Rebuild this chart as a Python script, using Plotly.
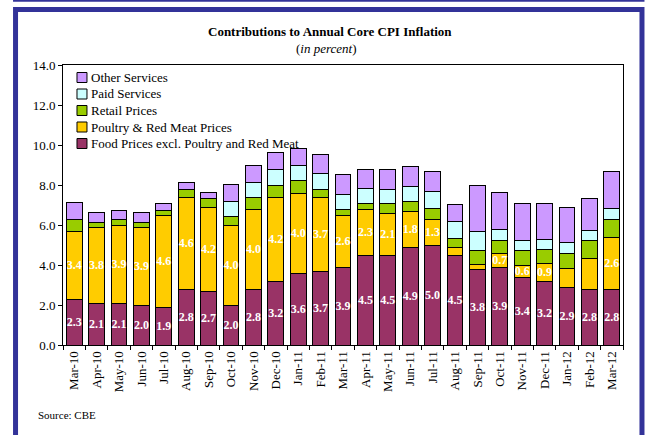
import plotly.graph_objects as go

months = ["Mar-10", "Apr-10", "May-10", "Jun-10", "Jul-10", "Aug-10", "Sep-10", "Oct-10",
          "Nov-10", "Dec-10", "Jan-11", "Feb-11", "Mar-11", "Apr-11", "May-11", "Jun-11",
          "Jul-11", "Aug-11", "Sep-11", "Oct-11", "Nov-11", "Dec-11", "Jan-12", "Feb-12", "Mar-12"]

food = [2.3, 2.1, 2.1, 2.0, 1.9, 2.8, 2.7, 2.0, 2.8, 3.2, 3.6, 3.7, 3.9, 4.5, 4.5, 4.9,
        5.0, 4.5, 3.8, 3.9, 3.4, 3.2, 2.9, 2.8, 2.8]
poultry = [3.4, 3.8, 3.9, 3.9, 4.6, 4.6, 4.2, 4.0, 4.0, 4.2, 4.0, 3.7, 2.6, 2.3, 2.1, 1.8,
           1.3, 0.4, 0.25, 0.7, 0.6, 0.9, 0.95, 1.55, 2.6]
retail = [0.6, 0.25, 0.3, 0.25, 0.25, 0.4, 0.45, 0.45, 0.6, 0.6, 0.65, 0.4, 0.3, 0.3, 0.5, 0.5,
          0.55, 0.45, 0.7, 0.65, 0.75, 0.7, 0.75, 0.9, 0.9]
paid = [0.0, 0.0, 0.0, 0.0, 0.0, 0.0, 0.0, 0.75, 0.75, 0.8, 0.75, 0.77, 0.75, 0.75, 0.7, 0.75,
        0.83, 0.83, 0.95, 0.52, 0.5, 0.5, 0.55, 0.5, 0.55]
other = [0.85, 0.5, 0.45, 0.5, 0.35, 0.35, 0.3, 0.85, 0.85, 0.83, 0.83, 0.98, 0.97, 0.95, 1.0, 0.97,
         0.98, 0.87, 2.3, 1.85, 1.82, 1.8, 1.73, 1.6, 1.85]

food_labels = ["2.3", "2.1", "2.1", "2.0", "1.9", "2.8", "2.7", "2.0", "2.8", "3.2", "3.6", "3.7",
               "3.9", "4.5", "4.5", "4.9", "5.0", "4.5", "3.8", "3.9", "3.4", "3.2", "2.9", "2.8", "2.8"]
poultry_labels = ["3.4", "3.8", "3.9", "3.9", "4.6", "4.6", "4.2", "4.0", "4.0", "4.2", "4.0", "3.7",
                  "2.6", "2.3", "2.1", "1.8", "1.3", "", "", "0.7", "0.6", "0.9", "", "", "2.6"]

series_names = ["Food Prices excl. Poultry and Red Meat", "Poultry & Red Meat Prices",
                "Retail Prices", "Paid Services", "Other Services"]
series_colors = ["#993366", "#FFCC00", "#99CC00", "#CCFFFF", "#CC99FF"]
series_values = [food, poultry, retail, paid, other]
series_text = [food_labels, poultry_labels, None, None, None]

SERIF = "Liberation Serif"

# plot area in pixels
W, H = 648, 435
PL, PR, PT, PB = 63, 623.5, 65, 345


def px(x):
    return (x - PL) / (PR - PL)


def py(y):
    return (PB - y) / (PB - PT)


fig = go.Figure()
for name, color, vals, txt in zip(series_names, series_colors, series_values, series_text):
    kw = {}
    if txt is not None:
        kw = dict(text=["<b>%s</b>" % t if t else "" for t in txt],
                  textposition="inside", insidetextanchor="middle", textangle=0,
                  constraintext="none",
                  textfont=dict(family=SERIF, size=12, color="white"))
    fig.add_trace(go.Bar(x=months, y=vals, name=name, showlegend=False,
                         marker=dict(color=color, line=dict(color="black", width=1)),
                         hoverinfo="skip", **kw))

shapes = [
    # frame
    dict(type="line", xref="paper", yref="paper", x0=px(13), x1=px(645), y0=py(0.8), y1=py(0.8),
         line=dict(color="#333399", width=2)),
    dict(type="rect", xref="paper", yref="paper", x0=px(15.5), x1=px(642.5), y0=py(9.5), y1=py(450),
         line=dict(color="#333399", width=5)),
]

annotations = [
    dict(text="<b>Contributions to Annual Core CPI Inflation</b>", xref="paper", yref="paper",
         x=px(330), y=py(31), xanchor="center", yanchor="middle", showarrow=False,
         font=dict(family=SERIF, size=13, color="black")),
    dict(text="(<i>in percent</i>)", xref="paper", yref="paper",
         x=px(327), y=py(49), xanchor="center", yanchor="middle", showarrow=False,
         font=dict(family=SERIF, size=13, color="black")),
    dict(text="Source: CBE", xref="paper", yref="paper",
         x=px(36), y=py(415), xanchor="left", yanchor="middle", showarrow=False,
         font=dict(family=SERIF, size=11, color="black")),
]

# legend (top to bottom: reverse of stacking order)
leg_y0, leg_dy = 77.5, 16.5
for i, (name, color) in enumerate(zip(series_names[::-1], series_colors[::-1])):
    yc = leg_y0 + i * leg_dy
    shapes.append(dict(type="rect", xref="paper", yref="paper",
                       x0=px(77), x1=px(87), y0=py(yc - 5), y1=py(yc + 5),
                       fillcolor=color, line=dict(color="black", width=1)))
    annotations.append(dict(text=name, xref="paper", yref="paper", x=px(89), y=py(yc),
                            xanchor="left", yanchor="middle", showarrow=False,
                            font=dict(family=SERIF, size=13, color="black")))

fig.update_layout(
    width=W, height=H,
    margin=dict(l=PL, r=W - PR, t=PT, b=H - PB, pad=0),
    barmode="stack", bargap=0.29,
    plot_bgcolor="white", paper_bgcolor="white",
    showlegend=False,
    uniformtext=dict(minsize=12, mode="show"),
    shapes=shapes, annotations=annotations,
    font=dict(family=SERIF, size=13, color="black"),
)
fig.update_xaxes(showline=True, linecolor="black", linewidth=1, mirror=True,
                 ticks="outside", tickson="boundaries", ticklen=4, tickcolor="black",
                 tickangle=-90, tickfont=dict(family=SERIF, size=13, color="black"),
                 showgrid=False)
fig.update_yaxes(range=[0, 14], dtick=2, tickformat=".1f", showline=True, linecolor="black",
                 linewidth=1, mirror=True, ticks="outside", ticklen=4, tickcolor="black",
                 tickfont=dict(family=SERIF, size=13, color="black"), showgrid=False,
                 zeroline=False)

fig.write_html("out.html", config={"displayModeBar": False, "staticPlot": True},
               post_script="document.body.style.margin='0';")
